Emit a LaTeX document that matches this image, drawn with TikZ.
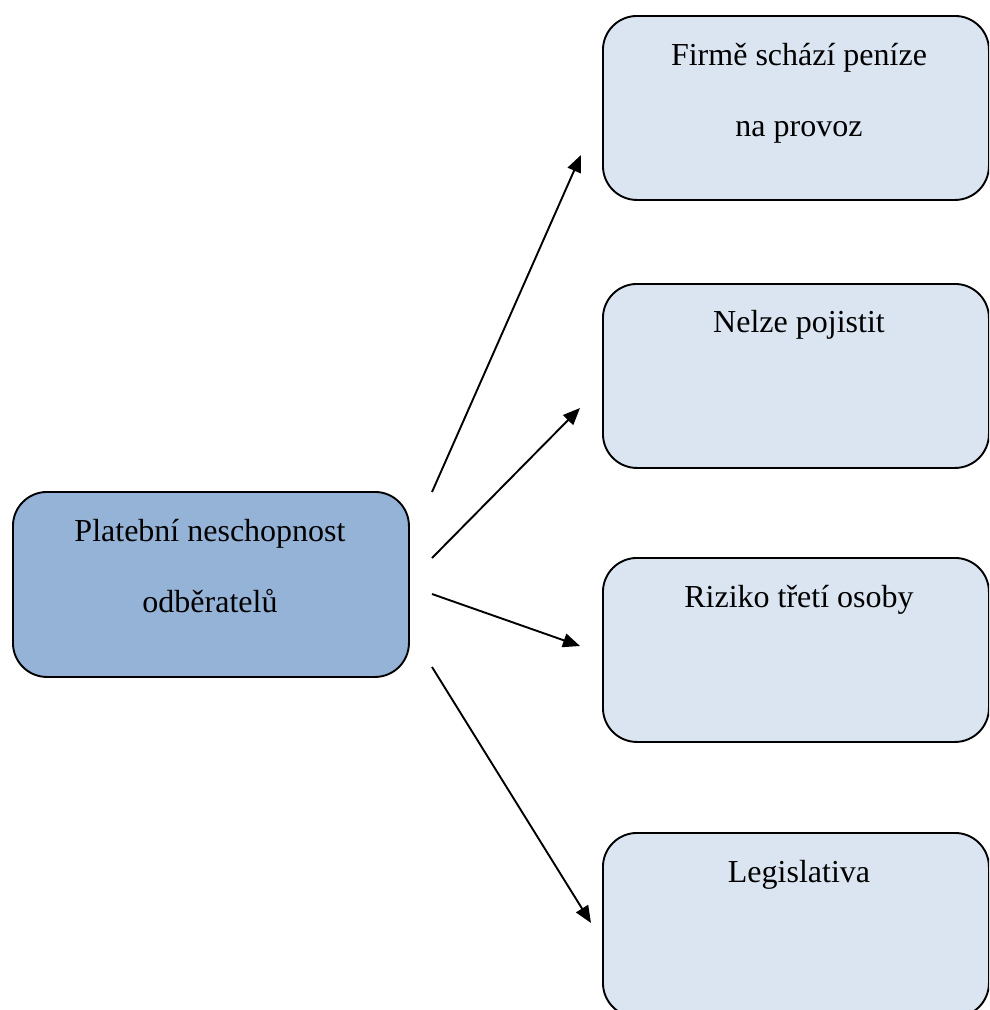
\documentclass[tikz,border=0pt]{standalone}
\usepackage{fontspec}
\setmainfont{Liberation Serif}
\usetikzlibrary{arrows.meta}
\definecolor{causefill}{HTML}{95B3D7}
\definecolor{effectfill}{HTML}{DBE5F1}
\begin{document}
\begin{tikzpicture}[x=1pt,y=-1pt,
  boxbase/.style={draw=black, line width=1.9pt, rounded corners=34pt,
    anchor=north west, inner sep=0pt},
  causebox/.style={boxbase, fill=causefill, minimum width=396pt, minimum height=185pt},
  effectbox/.style={boxbase, fill=effectfill, minimum width=386pt, minimum height=184pt},
  lbl/.style={anchor=base, inner sep=0pt, font=\fontsize{32pt}{38pt}\selectfont},
  link/.style={line width=1.9pt, -{Triangle[length=17pt,width=14pt]}}]
\useasboundingbox (0,0) rectangle (989,1010);
\clip (0,0) rectangle (989,1010);

% cause
\node[causebox] (cause) at (12,491) {};
\node[lbl] (causeA) at (210,541) {Platební neschopnost};
\node[lbl] (causeB) at (210,612) {odběratelů};

% effects
\node[effectbox] (e1) at (602,15) {};
\node[lbl] (e1a) at (799,65) {Firmě schází peníze};
\node[lbl] (e1b) at (799,136) {na provoz};

\node[effectbox] (e2) at (602,283) {};
\node[lbl] (e2a) at (799,332) {Nelze pojistit};

\node[effectbox] (e3) at (602,557) {};
\node[lbl] (e3a) at (799,607) {Riziko třetí osoby};

\node[effectbox] (e4) at (602,832) {};
\node[lbl] (e4a) at (799,882) {Legislativa};

% arrow ends
\coordinate (s1) at (432,492);
\coordinate (s2) at (432,558);
\coordinate (s3) at (432,594);
\coordinate (s4) at (432,667);
\coordinate (t1) at (581,155);
\coordinate (t2) at (580,408);
\coordinate (t3) at (580,646);
\coordinate (t4) at (591,923);

\draw[link] (s1) -- (t1);
\draw[link] (s2) -- (t2);
\draw[link] (s3) -- (t3);
\draw[link] (s4) -- (t4);
\end{tikzpicture}
\end{document}
